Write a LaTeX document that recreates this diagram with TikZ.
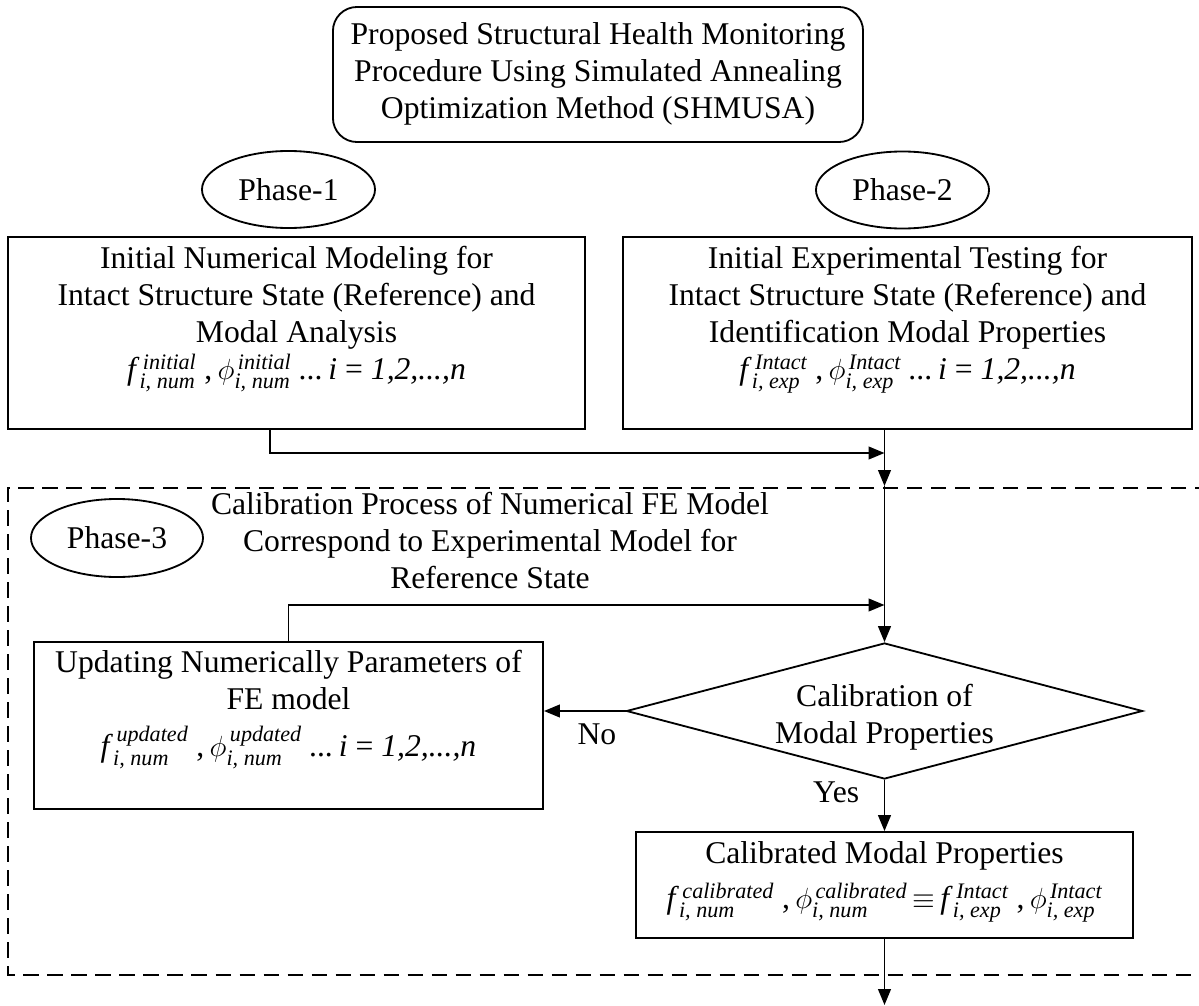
\documentclass[tikz,border=0pt]{standalone}
\usepackage{fontspec}
\setmainfont{Liberation Serif}
\usepackage{amsmath}
\usetikzlibrary{shapes.geometric,arrows.meta}

% modal quantity: symbol with superscript and subscript in italic
\newcommand{\modq}[3]{#1$^{\,\textit{#2}}_{\textit{#3}}$}

\begin{document}
\begin{tikzpicture}[x=0.025cm,y=-0.025cm,
  font=\fontsize{22.5}{26.3}\selectfont,
  line width=1.3pt,
  box/.style={draw,rectangle,inner sep=0pt},
  phase/.style={draw,ellipse,inner sep=0pt},
  txt/.style={align=center,inner sep=0pt},
  arr/.style={-{Triangle[length=0.4cm,width=0.32cm]}},
  frame/.style={line width=1.2pt,dash pattern=on 0.38cm off 0.22cm}]

\useasboundingbox (0,0) rectangle (1199,1006);

% title
\node[box,rounded corners=0.6cm,minimum width=13.25cm,minimum height=3.375cm] (title) at (598,74.5) {};
\node[txt,anchor=north] (titletxt) at (598,21.5) {Proposed Structural Health Monitoring\\Procedure Using Simulated Annealing\\Optimization Method (SHMUSA)};

% phase labels
\node[phase,minimum width=4.325cm,minimum height=1.925cm] (p1) at (288.5,189.5) {Phase-1};
\node[phase,minimum width=4.325cm,minimum height=1.925cm] (p2) at (902.5,190) {Phase-2};

% phase 1 and 2 boxes
\node[box,minimum width=14.425cm,minimum height=4.8cm] (lbox) at (296.5,333) {};
\node[txt,anchor=north] (ltxt) at (296.5,245.5) {Initial Numerical Modeling for\\Intact Structure State (Reference) and\\Modal Analysis\\
  \modq{\textit{f}}{initial}{i, num}\ ,\,\modq{$\phi$}{initial}{i, num}\ \textit{...\,i} = \textit{1,2,...,n}};

\node[box,minimum width=14.225cm,minimum height=4.8cm] (rbox) at (907.5,333) {};
\node[txt,anchor=north] (rtxt) at (907.5,245.5) {Initial Experimental Testing for\\Intact Structure State (Reference) and\\Identification Modal Properties\\
  \modq{\textit{f}}{Intact}{i, exp}\ ,\,\modq{$\phi$}{Intact}{i, exp}\ \textit{...\,i} = \textit{1,2,...,n}};

% phase 3 frame
\draw[frame] (1210,488) -- (8,488) -- (8,975) -- (1210,975);
\node[phase,minimum width=4.3cm,minimum height=1.95cm] (p3) at (117,538) {Phase-3};
\node[txt,anchor=north] (ctxt) at (490,491.5) {Calibration Process of Numerical FE Model\\Correspond to Experimental Model for\\Reference State};

\node[box,minimum width=12.725cm,minimum height=4.175cm] (upd) at (288.5,725.5) {};
\node[txt,anchor=north] (utxt) at (288.5,649) {Updating Numerically Parameters of\\FE model\\[7pt]
  \modq{\textit{f}}{updated}{i, num}\ ,\,\modq{$\phi$}{updated}{i, num}\ \textit{...\,i} = \textit{1,2,...,n}};

\node[draw,diamond,inner sep=0pt,minimum width=12.9cm,minimum height=3.4cm] (dia) at (884.5,711) {};
\node[txt,anchor=north] (dtxt) at (884.5,683.5) {Calibration of\\Modal Properties};

\node[box,minimum width=12.425cm,minimum height=2.65cm] (cal) at (884.5,885) {};
\node[txt,anchor=north] (caltxt) at (884.5,840.5) {Calibrated Modal Properties\\[6pt]
  \modq{\textit{f}}{calibrated}{i, num}\ ,\,\modq{$\phi$}{calibrated}{i, num}\,$\equiv$\,\modq{\textit{f}}{Intact}{i, exp}\ ,\,\modq{$\phi$}{Intact}{i, exp}};

% junction points on the main vertical line
\coordinate (m1) at (884.5,453);
\coordinate (m2) at (884.5,486);
\coordinate (m3) at (884.5,605);
\coordinate (out) at (884.5,1005);
\coordinate (ls) at (270,429);

% connectors
\draw[arr] (ls) |- (m1);
\draw (rbox.south -| m1) -- (m1);
\draw[arr] (m1) -- (m2);
\draw[arr] (m2) -- (dia.north);
\draw[arr] (upd.north) |- (m3);
\draw[arr] (dia.west) -- (dia.west -| upd.east) node[pos=0.35,below=5pt] (no) {No};
\draw[arr] (dia.south) -- (cal.north) node[pos=0.25,left=14pt] (yes) {Yes};
\draw[arr] (cal.south) -- (out);
\end{tikzpicture}
\end{document}
